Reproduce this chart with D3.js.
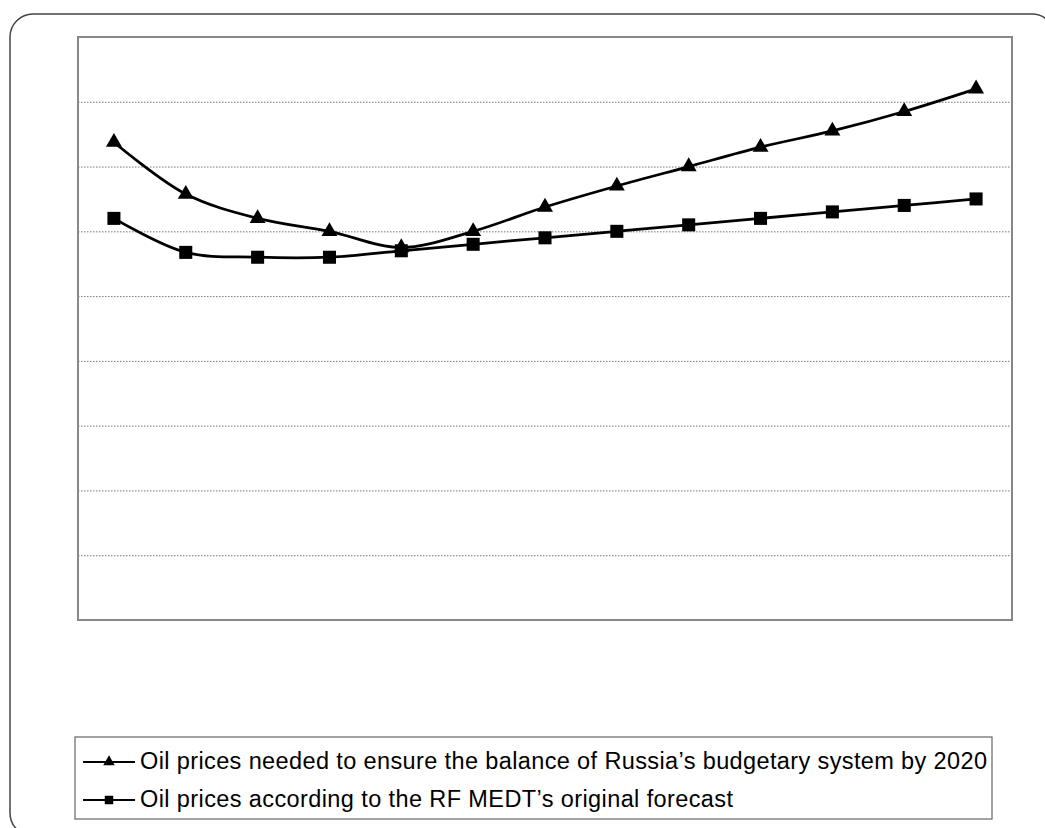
<!DOCTYPE html>
<html>
<head>
<meta charset="utf-8">
<script src="https://cdn.jsdelivr.net/npm/d3@7"></script>
<style>
  html, body { margin: 0; padding: 0; background: #fff; }
  svg { display: block; }
  text { font-family: "Liberation Sans", Arial, sans-serif; }
</style>
</head>
<body>
<svg id="chart" width="1045" height="828"></svg>
<script>
// Years on the horizontal axis (labels not shown on the chart)
const years = [2008, 2009, 2010, 2011, 2012, 2013, 2014, 2015, 2016, 2017, 2018, 2019, 2020];

// Oil price needed to balance Russia's budgetary system by 2020
const balancePrice = [147.5, 131.5, 124, 120, 115, 120, 127.5, 134, 140, 146, 151, 157, 164];

// Oil price from the RF MEDT's original forecast
const forecastPrice = [124, 113.5, 112, 112, 114, 116, 118, 120, 122, 124, 126, 128, 130];

// Gridline values
const yTicks = [20, 40, 60, 80, 100, 120, 140, 160];

const seriesNames = [
  "Oil prices needed to ensure the balance of Russia\u2019s budgetary system by 2020",
  "Oil prices according to the RF MEDT\u2019s original forecast"
];
// Rendered widths of the legend labels
const labelWidths = [847, 593];

const svg = d3.select("#chart");

// Outer rounded frame
svg.append("rect")
  .attr("x", 10).attr("y", 14)
  .attr("width", 1045).attr("height", 822)
  .attr("rx", 23).attr("ry", 23)
  .attr("fill", "none")
  .attr("stroke", "#444")
  .attr("stroke-width", 1.5);

const plot = { left: 78, top: 37, right: 1012, bottom: 620 };

const x = d3.scaleBand()
  .domain(years)
  .range([plot.left, plot.right])
  .padding(0);

const y = d3.scaleLinear()
  .domain([0, 180])
  .range([plot.bottom, plot.top]);

const cx = d => x(d) + x.bandwidth() / 2;

// Horizontal gridlines
const grid = svg.append("g")
  .attr("transform", `translate(${plot.left},0)`)
  .call(d3.axisLeft(y)
    .tickValues(yTicks)
    .tickSize(-(plot.right - plot.left))
    .tickFormat(""));
grid.select(".domain").remove();
grid.selectAll(".tick line")
  .attr("stroke", "#777")
  .attr("stroke-width", 1)
  .attr("stroke-dasharray", "1.5,1.5");

// Plot-area border
svg.append("rect")
  .attr("x", plot.left).attr("y", plot.top)
  .attr("width", plot.right - plot.left)
  .attr("height", plot.bottom - plot.top)
  .attr("fill", "none")
  .attr("stroke", "#888")
  .attr("stroke-width", 2);

const line = d3.line()
  .x((d, i) => cx(years[i]))
  .y(d => y(d))
  .curve(d3.curveCatmullRom.alpha(0.5));

const series = [
  { values: balancePrice, symbol: d3.symbolTriangle, size: 110, legendSize: 58 },
  { values: forecastPrice, symbol: d3.symbolSquare, size: 170, legendSize: 72 }
];

series.forEach(s => {
  svg.append("path")
    .datum(s.values)
    .attr("d", line)
    .attr("fill", "none")
    .attr("stroke", "#000")
    .attr("stroke-width", 2.75);

  svg.append("g")
    .selectAll("path")
    .data(s.values)
    .join("path")
    .attr("transform", (d, i) => `translate(${cx(years[i])},${y(d)})`)
    .attr("d", d3.symbol().type(s.symbol).size(s.size)())
    .attr("fill", "#000");
});

// Legend
const legend = svg.append("g");
legend.append("rect")
  .attr("x", 75).attr("y", 737)
  .attr("width", 917).attr("height", 82)
  .attr("fill", "#fff")
  .attr("stroke", "#666")
  .attr("stroke-width", 1.2);

const rowY = [762, 800];
series.forEach((s, i) => {
  const g = legend.append("g").attr("transform", `translate(0,${rowY[i]})`);
  g.append("line")
    .attr("x1", 83).attr("x2", 135)
    .attr("y1", 0).attr("y2", 0)
    .attr("stroke", "#000").attr("stroke-width", 2);
  g.append("path")
    .attr("transform", "translate(109,0)")
    .attr("d", d3.symbol().type(s.symbol).size(s.legendSize)())
    .attr("fill", "#000");
  g.append("text")
    .attr("x", 140).attr("y", 7)
    .attr("font-size", 23.5)
    .attr("textLength", labelWidths[i])
    .attr("lengthAdjust", "spacing")
    .attr("fill", "#000")
    .text(seriesNames[i]);
});
</script>
</body>
</html>
